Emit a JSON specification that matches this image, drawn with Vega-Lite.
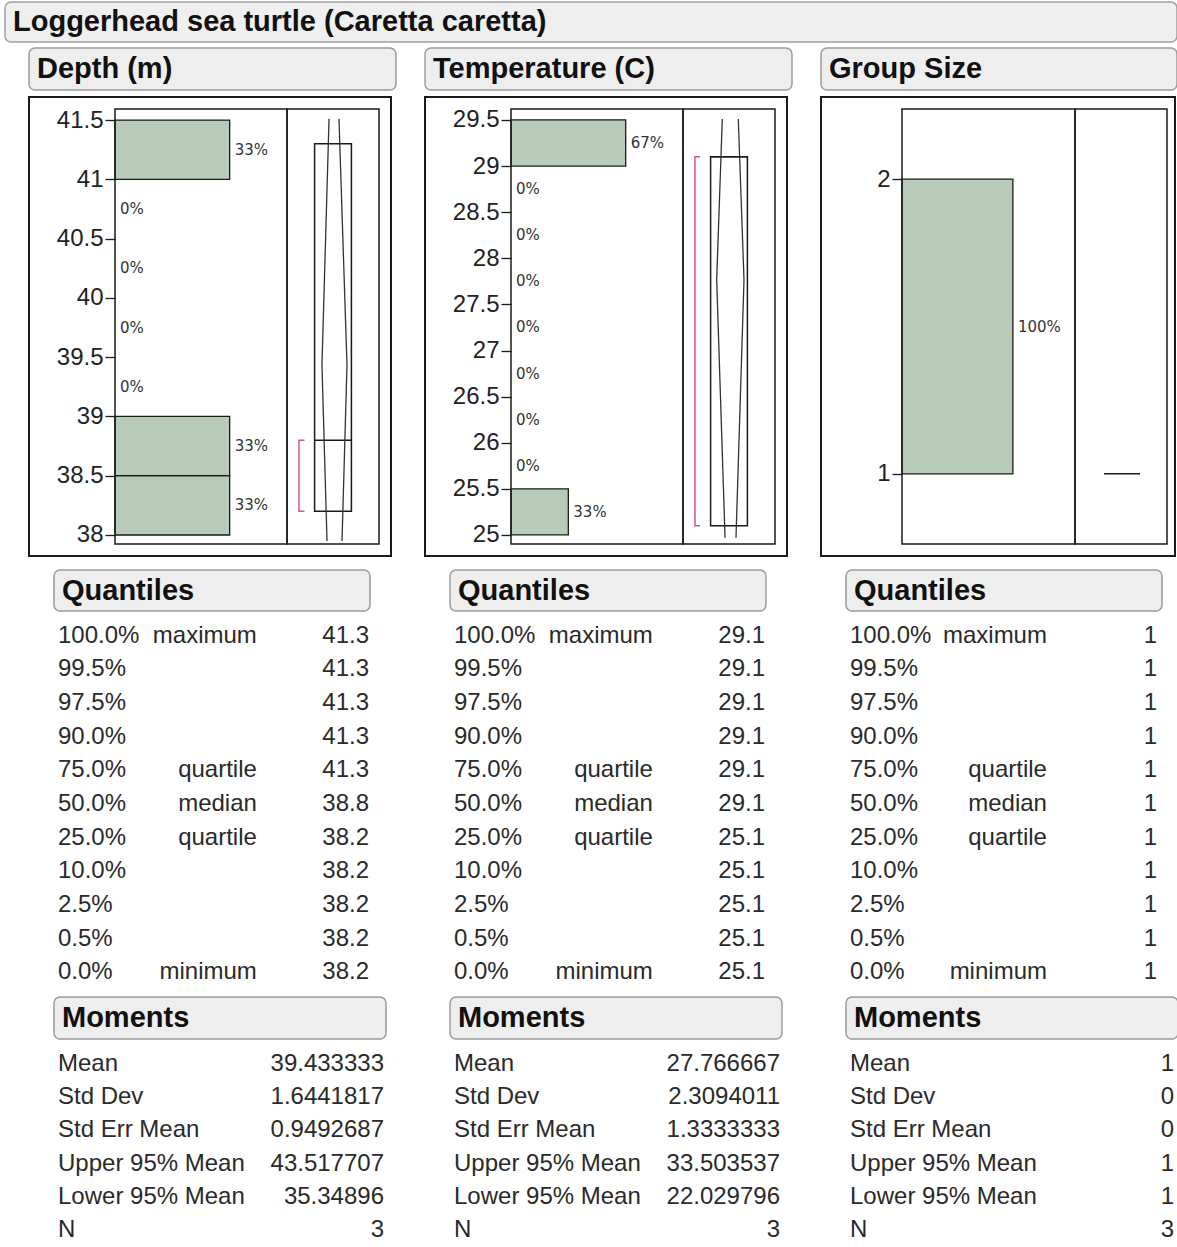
{
  "$schema": "https://vega.github.io/schema/vega-lite/v6.json",
  "padding": {"left": 4, "top": 1, "right": 0, "bottom": 0},
  "background": "white",
  "config": {"view": {"stroke": null}},
  "datasets": {
    "depthBins": [
      {"lo": 38, "hi": 38.5, "mid": 38.25, "pct": 33.33, "lab": "33%"},
      {"lo": 38.5, "hi": 39, "mid": 38.75, "pct": 33.33, "lab": "33%"},
      {"lo": 39, "hi": 39.5, "mid": 39.25, "pct": 0, "lab": "0%"},
      {"lo": 39.5, "hi": 40, "mid": 39.75, "pct": 0, "lab": "0%"},
      {"lo": 40, "hi": 40.5, "mid": 40.25, "pct": 0, "lab": "0%"},
      {"lo": 40.5, "hi": 41, "mid": 40.75, "pct": 0, "lab": "0%"},
      {"lo": 41, "hi": 41.5, "mid": 41.25, "pct": 33.33, "lab": "33%"}
    ],
    "tempBins": [
      {"lo": 25, "hi": 25.5, "mid": 25.25, "pct": 33.33, "lab": "33%"},
      {"lo": 25.5, "hi": 26, "mid": 25.75, "pct": 0, "lab": "0%"},
      {"lo": 26, "hi": 26.5, "mid": 26.25, "pct": 0, "lab": "0%"},
      {"lo": 26.5, "hi": 27, "mid": 26.75, "pct": 0, "lab": "0%"},
      {"lo": 27, "hi": 27.5, "mid": 27.25, "pct": 0, "lab": "0%"},
      {"lo": 27.5, "hi": 28, "mid": 27.75, "pct": 0, "lab": "0%"},
      {"lo": 28, "hi": 28.5, "mid": 28.25, "pct": 0, "lab": "0%"},
      {"lo": 28.5, "hi": 29, "mid": 28.75, "pct": 0, "lab": "0%"},
      {"lo": 29, "hi": 29.5, "mid": 29.25, "pct": 66.67, "lab": "67%"}
    ],
    "groupBins": [
      {"lo": 1, "hi": 2, "mid": 1.5, "pct": 100, "lab": "100%"}
    ],
    "depthBox": [{"q1": 38.2, "q3": 41.3, "med": 38.8}],
    "tempBox": [{"q1": 25.1, "q3": 29.1, "med": 29.1}],
    "groupBox": [{"q1": 1, "q3": 1, "med": 1}],
    "depthDiamond": [
      {"side": "L", "ord": 1, "bx": 0.457, "val": 41.51},
      {"side": "L", "ord": 2, "bx": 0.38, "val": 39.433},
      {"side": "L", "ord": 3, "bx": 0.435, "val": 37.95},
      {"side": "R", "ord": 1, "bx": 0.565, "val": 41.51},
      {"side": "R", "ord": 2, "bx": 0.652, "val": 39.433},
      {"side": "R", "ord": 3, "bx": 0.598, "val": 37.95}
    ],
    "tempDiamond": [
      {"side": "L", "ord": 1, "bx": 0.427, "val": 29.51},
      {"side": "L", "ord": 2, "bx": 0.366, "val": 27.767},
      {"side": "L", "ord": 3, "bx": 0.457, "val": 24.97},
      {"side": "R", "ord": 1, "bx": 0.601, "val": 29.51},
      {"side": "R", "ord": 2, "bx": 0.663, "val": 27.767},
      {"side": "R", "ord": 3, "bx": 0.576, "val": 24.97}
    ],
    "depthBracket": [
      {"ord": 1, "bx": 0.19, "val": 38.2},
      {"ord": 2, "bx": 0.13, "val": 38.2},
      {"ord": 3, "bx": 0.13, "val": 38.8},
      {"ord": 4, "bx": 0.19, "val": 38.8}
    ],
    "tempBracket": [
      {"ord": 1, "bx": 0.185, "val": 25.1},
      {"ord": 2, "bx": 0.13, "val": 25.1},
      {"ord": 3, "bx": 0.13, "val": 29.1},
      {"ord": 4, "bx": 0.185, "val": 29.1}
    ],
    "depthQ": [
      {"q": "100.0%", "name": "maximum", "v": 41.3},
      {"q": "99.5%", "name": "", "v": 41.3},
      {"q": "97.5%", "name": "", "v": 41.3},
      {"q": "90.0%", "name": "", "v": 41.3},
      {"q": "75.0%", "name": "quartile", "v": 41.3},
      {"q": "50.0%", "name": "median", "v": 38.8},
      {"q": "25.0%", "name": "quartile", "v": 38.2},
      {"q": "10.0%", "name": "", "v": 38.2},
      {"q": "2.5%", "name": "", "v": 38.2},
      {"q": "0.5%", "name": "", "v": 38.2},
      {"q": "0.0%", "name": "minimum", "v": 38.2}
    ],
    "tempQ": [
      {"q": "100.0%", "name": "maximum", "v": 29.1},
      {"q": "99.5%", "name": "", "v": 29.1},
      {"q": "97.5%", "name": "", "v": 29.1},
      {"q": "90.0%", "name": "", "v": 29.1},
      {"q": "75.0%", "name": "quartile", "v": 29.1},
      {"q": "50.0%", "name": "median", "v": 29.1},
      {"q": "25.0%", "name": "quartile", "v": 25.1},
      {"q": "10.0%", "name": "", "v": 25.1},
      {"q": "2.5%", "name": "", "v": 25.1},
      {"q": "0.5%", "name": "", "v": 25.1},
      {"q": "0.0%", "name": "minimum", "v": 25.1}
    ],
    "groupQ": [
      {"q": "100.0%", "name": "maximum", "v": 1},
      {"q": "99.5%", "name": "", "v": 1},
      {"q": "97.5%", "name": "", "v": 1},
      {"q": "90.0%", "name": "", "v": 1},
      {"q": "75.0%", "name": "quartile", "v": 1},
      {"q": "50.0%", "name": "median", "v": 1},
      {"q": "25.0%", "name": "quartile", "v": 1},
      {"q": "10.0%", "name": "", "v": 1},
      {"q": "2.5%", "name": "", "v": 1},
      {"q": "0.5%", "name": "", "v": 1},
      {"q": "0.0%", "name": "minimum", "v": 1}
    ],
    "depthM": [
      {"name": "Mean", "v": 39.433333},
      {"name": "Std Dev", "v": 1.6441817},
      {"name": "Std Err Mean", "v": 0.9492687},
      {"name": "Upper 95% Mean", "v": 43.517707},
      {"name": "Lower 95% Mean", "v": 35.34896},
      {"name": "N", "v": 3}
    ],
    "tempM": [
      {"name": "Mean", "v": 27.766667},
      {"name": "Std Dev", "v": 2.3094011},
      {"name": "Std Err Mean", "v": 1.3333333},
      {"name": "Upper 95% Mean", "v": 33.503537},
      {"name": "Lower 95% Mean", "v": 22.029796},
      {"name": "N", "v": 3}
    ],
    "groupM": [
      {"name": "Mean", "v": 1},
      {"name": "Std Dev", "v": 0},
      {"name": "Std Err Mean", "v": 0},
      {"name": "Upper 95% Mean", "v": 1},
      {"name": "Lower 95% Mean", "v": 1},
      {"name": "N", "v": 3}
    ]
  },
  "spacing": 4,
  "vconcat": [
    {
      "width": 1172, "height": 40,
      "view": {"fill": "#efefef", "stroke": "#a0a0a0", "strokeWidth": 1.5, "cornerRadius": 6},
      "data": {"values": [{"t": "Loggerhead sea turtle (Caretta caretta)"}]},
      "mark": {"type": "text", "align": "left", "baseline": "middle", "dx": 8, "font": "Liberation Sans", "fontSize": 29, "fontWeight": "bold", "color": "#111111"},
      "encoding": {"x": {"datum": 0, "type": "quantitative", "scale": {"domain": [0, 1]}, "axis": null}, "text": {"field": "t"}}
    },
    {
      "spacing": 0,
      "hconcat": [
        {"width": 23, "height": 1, "data": {"values": []}, "mark": "point"},
        {
          "spacing": 27,
          "hconcat": [
            {
              "spacing": 5,
              "vconcat": [
                {
                  "width": 367, "height": 42,
                  "view": {"fill": "#eeeeee", "stroke": "#9c9c9c", "strokeWidth": 1.5, "cornerRadius": 6},
                  "data": {"values": [{"t": "Depth (m)"}]},
                  "mark": {"type": "text", "align": "left", "baseline": "middle", "dx": 8, "font": "Liberation Sans", "fontSize": 29, "fontWeight": "bold", "color": "#111111"},
                  "encoding": {"x": {"datum": 0, "type": "quantitative", "scale": {"domain": [0, 1]}, "axis": null}, "text": {"field": "t"}}
                },
                {
                  "spacing": 12,
                  "vconcat": [
                    {
                      "width": 362, "height": 459,
                      "view": {"stroke": "#1a1a1a", "strokeWidth": 2},
                      "resolve": {"scale": {"x": "independent"}},
                      "layer": [
                        {
                          "data": {"name": "depthBins"},
                          "transform": [{"filter": "datum.pct > 0"}],
                          "mark": {"type": "rect", "fill": "#b8cab8", "stroke": "#1a1a1a", "strokeWidth": 1.3},
                          "encoding": {
                            "x": {"field": "pct", "type": "quantitative", "scale": {"domain": [0, 50], "range": [86, 258]}, "axis": null},
                            "x2": {"datum": 0},
                            "y": {"field": "lo", "type": "quantitative", "scale": {"domain": [37.924, 41.593], "range": [447, 12], "nice": false, "zero": false},
                                  "axis": {"orient": "left", "offset": -86, "values": [38, 38.5, 39, 39.5, 40, 40.5, 41, 41.5], "format": "~g", "domain": false, "grid": false, "tickSize": 10, "tickWidth": 1.3, "tickColor": "#1a1a1a", "labelFontSize": 24, "labelFont": "Liberation Sans", "labelColor": "#222222", "labelPadding": 2, "labelFlush": false, "labelOverlap": false, "title": null}},
                            "y2": {"field": "hi"}
                          }
                        },
                        {
                          "data": {"name": "depthBins"},
                          "mark": {"type": "text", "align": "left", "baseline": "middle", "dx": 5, "font": "DejaVu Sans", "fontSize": 15, "color": "#333333"},
                          "encoding": {
                            "x": {"field": "pct", "type": "quantitative", "scale": {"domain": [0, 50], "range": [86, 258]}, "axis": null},
                            "y": {"field": "mid", "type": "quantitative"},
                            "text": {"field": "lab"}
                          }
                        },
                        {
                          "data": {"values": [{}]},
                          "mark": {"type": "rect", "fill": "transparent", "stroke": "#1a1a1a", "strokeWidth": 1.5},
                          "encoding": {
                            "x": {"datum": 0, "type": "quantitative", "scale": {"domain": [0, 50], "range": [86, 258]}, "axis": null},
                            "x2": {"datum": 50},
                            "y": {"datum": 37.924, "type": "quantitative"},
                            "y2": {"datum": 41.593}
                          }
                        },
                        {
                          "data": {"values": [{}]},
                          "mark": {"type": "rect", "fill": "transparent", "stroke": "#1a1a1a", "strokeWidth": 1.5},
                          "encoding": {
                            "x": {"datum": 0, "type": "quantitative", "scale": {"domain": [0, 1], "range": [258, 350]}, "axis": null},
                            "x2": {"datum": 1},
                            "y": {"datum": 37.924, "type": "quantitative"},
                            "y2": {"datum": 41.593}
                          }
                        },
                        {
                          "data": {"name": "depthBox"},
                          "mark": {"type": "rect", "fill": "transparent", "stroke": "#1a1a1a", "strokeWidth": 1.5},
                          "encoding": {
                            "x": {"datum": 0.3, "type": "quantitative", "scale": {"domain": [0, 1], "range": [258, 350]}, "axis": null},
                            "x2": {"datum": 0.7},
                            "y": {"field": "q1", "type": "quantitative"},
                            "y2": {"field": "q3"}
                          }
                        },
                        {
                          "data": {"name": "depthBox"},
                          "mark": {"type": "rule", "color": "#1a1a1a", "strokeWidth": 1.5},
                          "encoding": {
                            "x": {"datum": 0.3, "type": "quantitative", "scale": {"domain": [0, 1], "range": [258, 350]}, "axis": null},
                            "x2": {"datum": 0.7},
                            "y": {"field": "med", "type": "quantitative"}
                          }
                        },
                        {
                          "data": {"name": "depthDiamond"},
                          "mark": {"type": "line", "color": "#333333", "strokeWidth": 1.3},
                          "encoding": {
                            "x": {"field": "bx", "type": "quantitative", "scale": {"domain": [0, 1], "range": [258, 350]}, "axis": null},
                            "y": {"field": "val", "type": "quantitative"},
                            "detail": {"field": "side"},
                            "order": {"field": "ord", "type": "quantitative"}
                          }
                        },
                        {
                          "data": {"name": "depthBracket"},
                          "mark": {"type": "line", "color": "#d6587a", "strokeWidth": 1.5},
                          "encoding": {
                            "x": {"field": "bx", "type": "quantitative", "scale": {"domain": [0, 1], "range": [258, 350]}, "axis": null},
                            "y": {"field": "val", "type": "quantitative"},
                            "order": {"field": "ord", "type": "quantitative"}
                          }
                        }
                      ]
                    },
                    {
                      "spacing": 0,
                      "hconcat": [
                        {"width": 24, "height": 1, "data": {"values": []}, "mark": "point"},
                        {
                          "spacing": 7,
                          "vconcat": [
                            {
                              "width": 316, "height": 41,
                              "view": {"fill": "#eeeeee", "stroke": "#9c9c9c", "strokeWidth": 1.5, "cornerRadius": 6},
                              "data": {"values": [{"t": "Quantiles"}]},
                              "mark": {"type": "text", "align": "left", "baseline": "middle", "dx": 8, "font": "Liberation Sans", "fontSize": 29, "fontWeight": "bold", "color": "#111111"},
                              "encoding": {"x": {"datum": 0, "type": "quantitative", "scale": {"domain": [0, 1]}, "axis": null}, "text": {"field": "t"}}
                            },
                            {
                              "width": 316, "height": 370,
                              "data": {"name": "depthQ"},
                              "encoding": {"y": {"field": "q", "type": "nominal", "sort": null, "scale": {"type": "point", "padding": 0.5}, "axis": null}},
                              "layer": [
                                {"mark": {"type": "text", "align": "left", "baseline": "middle", "dx": 4, "font": "Liberation Sans", "fontSize": 24, "color": "#2a2a2a"},
                                 "encoding": {"x": {"datum": 0, "type": "quantitative", "scale": {"domain": [0, 1]}, "axis": null}, "text": {"field": "q"}}},
                                {"mark": {"type": "text", "align": "right", "baseline": "middle", "font": "Liberation Sans", "fontSize": 24, "color": "#2a2a2a"},
                                 "encoding": {"x": {"datum": 0.642, "type": "quantitative"}, "text": {"field": "name"}}},
                                {"mark": {"type": "text", "align": "right", "baseline": "middle", "dx": -1, "font": "Liberation Sans", "fontSize": 24, "color": "#2a2a2a"},
                                 "encoding": {"x": {"datum": 1, "type": "quantitative"}, "text": {"field": "v", "type": "nominal"}}}
                              ]
                            },
                            {
                              "width": 332, "height": 42,
                              "view": {"fill": "#eeeeee", "stroke": "#9c9c9c", "strokeWidth": 1.5, "cornerRadius": 6},
                              "data": {"values": [{"t": "Moments"}]},
                              "mark": {"type": "text", "align": "left", "baseline": "middle", "dx": 8, "font": "Liberation Sans", "fontSize": 29, "fontWeight": "bold", "color": "#111111"},
                              "encoding": {"x": {"datum": 0, "type": "quantitative", "scale": {"domain": [0, 1]}, "axis": null}, "text": {"field": "t"}}
                            },
                            {
                              "width": 332, "height": 200,
                              "data": {"name": "depthM"},
                              "encoding": {"y": {"field": "name", "type": "nominal", "sort": null, "scale": {"type": "point", "padding": 0.5}, "axis": null}},
                              "layer": [
                                {"mark": {"type": "text", "align": "left", "baseline": "middle", "dx": 4, "font": "Liberation Sans", "fontSize": 24, "color": "#2a2a2a"},
                                 "encoding": {"x": {"datum": 0, "type": "quantitative", "scale": {"domain": [0, 1]}, "axis": null}, "text": {"field": "name"}}},
                                {"mark": {"type": "text", "align": "right", "baseline": "middle", "dx": -2, "font": "Liberation Sans", "fontSize": 24, "color": "#2a2a2a"},
                                 "encoding": {"x": {"datum": 1, "type": "quantitative"}, "text": {"field": "v", "type": "nominal"}}}
                              ]
                            }
                          ]
                        }
                      ]
                    }
                  ]
                }
              ]
            },
            {
              "spacing": 5,
              "vconcat": [
                {
                  "width": 367, "height": 42,
                  "view": {"fill": "#eeeeee", "stroke": "#9c9c9c", "strokeWidth": 1.5, "cornerRadius": 6},
                  "data": {"values": [{"t": "Temperature (C)"}]},
                  "mark": {"type": "text", "align": "left", "baseline": "middle", "dx": 8, "font": "Liberation Sans", "fontSize": 29, "fontWeight": "bold", "color": "#111111"},
                  "encoding": {"x": {"datum": 0, "type": "quantitative", "scale": {"domain": [0, 1]}, "axis": null}, "text": {"field": "t"}}
                },
                {
                  "spacing": 12,
                  "vconcat": [
                    {
                      "width": 362, "height": 459,
                      "view": {"stroke": "#1a1a1a", "strokeWidth": 2},
                      "resolve": {"scale": {"x": "independent"}},
                      "layer": [
                        {
                          "data": {"name": "tempBins"},
                          "transform": [{"filter": "datum.pct > 0"}],
                          "mark": {"type": "rect", "fill": "#b8cab8", "stroke": "#1a1a1a", "strokeWidth": 1.3},
                          "encoding": {
                            "x": {"field": "pct", "type": "quantitative", "scale": {"domain": [0, 100], "range": [86, 258]}, "axis": null},
                            "x2": {"datum": 0},
                            "y": {"field": "lo", "type": "quantitative", "scale": {"domain": [24.902, 29.619], "range": [447, 12], "nice": false, "zero": false},
                                  "axis": {"orient": "left", "offset": -86, "values": [25, 25.5, 26, 26.5, 27, 27.5, 28, 28.5, 29, 29.5], "format": "~g", "domain": false, "grid": false, "tickSize": 10, "tickWidth": 1.3, "tickColor": "#1a1a1a", "labelFontSize": 24, "labelFont": "Liberation Sans", "labelColor": "#222222", "labelPadding": 2, "labelFlush": false, "labelOverlap": false, "title": null}},
                            "y2": {"field": "hi"}
                          }
                        },
                        {
                          "data": {"name": "tempBins"},
                          "mark": {"type": "text", "align": "left", "baseline": "middle", "dx": 5, "font": "DejaVu Sans", "fontSize": 15, "color": "#333333"},
                          "encoding": {
                            "x": {"field": "pct", "type": "quantitative", "scale": {"domain": [0, 100], "range": [86, 258]}, "axis": null},
                            "y": {"field": "mid", "type": "quantitative"},
                            "text": {"field": "lab"}
                          }
                        },
                        {
                          "data": {"values": [{}]},
                          "mark": {"type": "rect", "fill": "transparent", "stroke": "#1a1a1a", "strokeWidth": 1.5},
                          "encoding": {
                            "x": {"datum": 0, "type": "quantitative", "scale": {"domain": [0, 100], "range": [86, 258]}, "axis": null},
                            "x2": {"datum": 100},
                            "y": {"datum": 24.902, "type": "quantitative"},
                            "y2": {"datum": 29.619}
                          }
                        },
                        {
                          "data": {"values": [{}]},
                          "mark": {"type": "rect", "fill": "transparent", "stroke": "#1a1a1a", "strokeWidth": 1.5},
                          "encoding": {
                            "x": {"datum": 0, "type": "quantitative", "scale": {"domain": [0, 1], "range": [258, 350]}, "axis": null},
                            "x2": {"datum": 1},
                            "y": {"datum": 24.902, "type": "quantitative"},
                            "y2": {"datum": 29.619}
                          }
                        },
                        {
                          "data": {"name": "tempBox"},
                          "mark": {"type": "rect", "fill": "transparent", "stroke": "#1a1a1a", "strokeWidth": 1.5},
                          "encoding": {
                            "x": {"datum": 0.3, "type": "quantitative", "scale": {"domain": [0, 1], "range": [258, 350]}, "axis": null},
                            "x2": {"datum": 0.7},
                            "y": {"field": "q1", "type": "quantitative"},
                            "y2": {"field": "q3"}
                          }
                        },
                        {
                          "data": {"name": "tempBox"},
                          "mark": {"type": "rule", "color": "#1a1a1a", "strokeWidth": 1.5},
                          "encoding": {
                            "x": {"datum": 0.3, "type": "quantitative", "scale": {"domain": [0, 1], "range": [258, 350]}, "axis": null},
                            "x2": {"datum": 0.7},
                            "y": {"field": "med", "type": "quantitative"}
                          }
                        },
                        {
                          "data": {"name": "tempDiamond"},
                          "mark": {"type": "line", "color": "#333333", "strokeWidth": 1.3},
                          "encoding": {
                            "x": {"field": "bx", "type": "quantitative", "scale": {"domain": [0, 1], "range": [258, 350]}, "axis": null},
                            "y": {"field": "val", "type": "quantitative"},
                            "detail": {"field": "side"},
                            "order": {"field": "ord", "type": "quantitative"}
                          }
                        },
                        {
                          "data": {"name": "tempBracket"},
                          "mark": {"type": "line", "color": "#d6587a", "strokeWidth": 1.5},
                          "encoding": {
                            "x": {"field": "bx", "type": "quantitative", "scale": {"domain": [0, 1], "range": [258, 350]}, "axis": null},
                            "y": {"field": "val", "type": "quantitative"},
                            "order": {"field": "ord", "type": "quantitative"}
                          }
                        }
                      ]
                    },
                    {
                      "spacing": 0,
                      "hconcat": [
                        {"width": 24, "height": 1, "data": {"values": []}, "mark": "point"},
                        {
                          "spacing": 7,
                          "vconcat": [
                            {
                              "width": 316, "height": 41,
                              "view": {"fill": "#eeeeee", "stroke": "#9c9c9c", "strokeWidth": 1.5, "cornerRadius": 6},
                              "data": {"values": [{"t": "Quantiles"}]},
                              "mark": {"type": "text", "align": "left", "baseline": "middle", "dx": 8, "font": "Liberation Sans", "fontSize": 29, "fontWeight": "bold", "color": "#111111"},
                              "encoding": {"x": {"datum": 0, "type": "quantitative", "scale": {"domain": [0, 1]}, "axis": null}, "text": {"field": "t"}}
                            },
                            {
                              "width": 316, "height": 370,
                              "data": {"name": "tempQ"},
                              "encoding": {"y": {"field": "q", "type": "nominal", "sort": null, "scale": {"type": "point", "padding": 0.5}, "axis": null}},
                              "layer": [
                                {"mark": {"type": "text", "align": "left", "baseline": "middle", "dx": 4, "font": "Liberation Sans", "fontSize": 24, "color": "#2a2a2a"},
                                 "encoding": {"x": {"datum": 0, "type": "quantitative", "scale": {"domain": [0, 1]}, "axis": null}, "text": {"field": "q"}}},
                                {"mark": {"type": "text", "align": "right", "baseline": "middle", "font": "Liberation Sans", "fontSize": 24, "color": "#2a2a2a"},
                                 "encoding": {"x": {"datum": 0.642, "type": "quantitative"}, "text": {"field": "name"}}},
                                {"mark": {"type": "text", "align": "right", "baseline": "middle", "dx": -1, "font": "Liberation Sans", "fontSize": 24, "color": "#2a2a2a"},
                                 "encoding": {"x": {"datum": 1, "type": "quantitative"}, "text": {"field": "v", "type": "nominal"}}}
                              ]
                            },
                            {
                              "width": 332, "height": 42,
                              "view": {"fill": "#eeeeee", "stroke": "#9c9c9c", "strokeWidth": 1.5, "cornerRadius": 6},
                              "data": {"values": [{"t": "Moments"}]},
                              "mark": {"type": "text", "align": "left", "baseline": "middle", "dx": 8, "font": "Liberation Sans", "fontSize": 29, "fontWeight": "bold", "color": "#111111"},
                              "encoding": {"x": {"datum": 0, "type": "quantitative", "scale": {"domain": [0, 1]}, "axis": null}, "text": {"field": "t"}}
                            },
                            {
                              "width": 332, "height": 200,
                              "data": {"name": "tempM"},
                              "encoding": {"y": {"field": "name", "type": "nominal", "sort": null, "scale": {"type": "point", "padding": 0.5}, "axis": null}},
                              "layer": [
                                {"mark": {"type": "text", "align": "left", "baseline": "middle", "dx": 4, "font": "Liberation Sans", "fontSize": 24, "color": "#2a2a2a"},
                                 "encoding": {"x": {"datum": 0, "type": "quantitative", "scale": {"domain": [0, 1]}, "axis": null}, "text": {"field": "name"}}},
                                {"mark": {"type": "text", "align": "right", "baseline": "middle", "dx": -2, "font": "Liberation Sans", "fontSize": 24, "color": "#2a2a2a"},
                                 "encoding": {"x": {"datum": 1, "type": "quantitative"}, "text": {"field": "v", "type": "nominal"}}}
                              ]
                            }
                          ]
                        }
                      ]
                    }
                  ]
                }
              ]
            },
            {
              "spacing": 5,
              "vconcat": [
                {
                  "width": 356, "height": 42,
                  "view": {"fill": "#eeeeee", "stroke": "#9c9c9c", "strokeWidth": 1.5, "cornerRadius": 6},
                  "data": {"values": [{"t": "Group Size"}]},
                  "mark": {"type": "text", "align": "left", "baseline": "middle", "dx": 8, "font": "Liberation Sans", "fontSize": 29, "fontWeight": "bold", "color": "#111111"},
                  "encoding": {"x": {"datum": 0, "type": "quantitative", "scale": {"domain": [0, 1]}, "axis": null}, "text": {"field": "t"}}
                },
                {
                  "spacing": 12,
                  "vconcat": [
                    {
                      "width": 354, "height": 459,
                      "view": {"stroke": "#1a1a1a", "strokeWidth": 2},
                      "resolve": {"scale": {"x": "independent"}},
                      "layer": [
                        {
                          "data": {"name": "groupBins"},
                          "transform": [{"filter": "datum.pct > 0"}],
                          "mark": {"type": "rect", "fill": "#b8cab8", "stroke": "#1a1a1a", "strokeWidth": 1.3},
                          "encoding": {
                            "x": {"field": "pct", "type": "quantitative", "scale": {"domain": [0, 156], "range": [81, 254]}, "axis": null},
                            "x2": {"datum": 0},
                            "y": {"field": "lo", "type": "quantitative", "scale": {"domain": [0.762, 2.238], "range": [447, 12], "nice": false, "zero": false},
                                  "axis": {"orient": "left", "offset": -81, "values": [1, 2], "format": "~g", "domain": false, "grid": false, "tickSize": 10, "tickWidth": 1.3, "tickColor": "#1a1a1a", "labelFontSize": 24, "labelFont": "Liberation Sans", "labelColor": "#222222", "labelPadding": 2, "labelFlush": false, "labelOverlap": false, "title": null}},
                            "y2": {"field": "hi"}
                          }
                        },
                        {
                          "data": {"name": "groupBins"},
                          "mark": {"type": "text", "align": "left", "baseline": "middle", "dx": 5, "font": "DejaVu Sans", "fontSize": 15, "color": "#333333"},
                          "encoding": {
                            "x": {"field": "pct", "type": "quantitative", "scale": {"domain": [0, 156], "range": [81, 254]}, "axis": null},
                            "y": {"field": "mid", "type": "quantitative"},
                            "text": {"field": "lab"}
                          }
                        },
                        {
                          "data": {"values": [{}]},
                          "mark": {"type": "rect", "fill": "transparent", "stroke": "#1a1a1a", "strokeWidth": 1.5},
                          "encoding": {
                            "x": {"datum": 0, "type": "quantitative", "scale": {"domain": [0, 156], "range": [81, 254]}, "axis": null},
                            "x2": {"datum": 156},
                            "y": {"datum": 0.762, "type": "quantitative"},
                            "y2": {"datum": 2.238}
                          }
                        },
                        {
                          "data": {"values": [{}]},
                          "mark": {"type": "rect", "fill": "transparent", "stroke": "#1a1a1a", "strokeWidth": 1.5},
                          "encoding": {
                            "x": {"datum": 0, "type": "quantitative", "scale": {"domain": [0, 1], "range": [254, 346]}, "axis": null},
                            "x2": {"datum": 1},
                            "y": {"datum": 0.762, "type": "quantitative"},
                            "y2": {"datum": 2.238}
                          }
                        },
                        {
                          "data": {"name": "groupBox"},
                          "mark": {"type": "rule", "color": "#1a1a1a", "strokeWidth": 1.5},
                          "encoding": {
                            "x": {"datum": 0.315, "type": "quantitative", "scale": {"domain": [0, 1], "range": [254, 346]}, "axis": null},
                            "x2": {"datum": 0.707},
                            "y": {"field": "med", "type": "quantitative"}
                          }
                        }
                      ]
                    },
                    {
                      "spacing": 0,
                      "hconcat": [
                        {"width": 24, "height": 1, "data": {"values": []}, "mark": "point"},
                        {
                          "spacing": 7,
                          "vconcat": [
                            {
                              "width": 316, "height": 41,
                              "view": {"fill": "#eeeeee", "stroke": "#9c9c9c", "strokeWidth": 1.5, "cornerRadius": 6},
                              "data": {"values": [{"t": "Quantiles"}]},
                              "mark": {"type": "text", "align": "left", "baseline": "middle", "dx": 8, "font": "Liberation Sans", "fontSize": 29, "fontWeight": "bold", "color": "#111111"},
                              "encoding": {"x": {"datum": 0, "type": "quantitative", "scale": {"domain": [0, 1]}, "axis": null}, "text": {"field": "t"}}
                            },
                            {
                              "width": 316, "height": 370,
                              "data": {"name": "groupQ"},
                              "encoding": {"y": {"field": "q", "type": "nominal", "sort": null, "scale": {"type": "point", "padding": 0.5}, "axis": null}},
                              "layer": [
                                {"mark": {"type": "text", "align": "left", "baseline": "middle", "dx": 4, "font": "Liberation Sans", "fontSize": 24, "color": "#2a2a2a"},
                                 "encoding": {"x": {"datum": 0, "type": "quantitative", "scale": {"domain": [0, 1]}, "axis": null}, "text": {"field": "q"}}},
                                {"mark": {"type": "text", "align": "right", "baseline": "middle", "font": "Liberation Sans", "fontSize": 24, "color": "#2a2a2a"},
                                 "encoding": {"x": {"datum": 0.636, "type": "quantitative"}, "text": {"field": "name"}}},
                                {"mark": {"type": "text", "align": "right", "baseline": "middle", "dx": -5, "font": "Liberation Sans", "fontSize": 24, "color": "#2a2a2a"},
                                 "encoding": {"x": {"datum": 1, "type": "quantitative"}, "text": {"field": "v", "type": "nominal"}}}
                              ]
                            },
                            {
                              "width": 332, "height": 42,
                              "view": {"fill": "#eeeeee", "stroke": "#9c9c9c", "strokeWidth": 1.5, "cornerRadius": 6},
                              "data": {"values": [{"t": "Moments"}]},
                              "mark": {"type": "text", "align": "left", "baseline": "middle", "dx": 8, "font": "Liberation Sans", "fontSize": 29, "fontWeight": "bold", "color": "#111111"},
                              "encoding": {"x": {"datum": 0, "type": "quantitative", "scale": {"domain": [0, 1]}, "axis": null}, "text": {"field": "t"}}
                            },
                            {
                              "width": 332, "height": 200,
                              "data": {"name": "groupM"},
                              "encoding": {"y": {"field": "name", "type": "nominal", "sort": null, "scale": {"type": "point", "padding": 0.5}, "axis": null}},
                              "layer": [
                                {"mark": {"type": "text", "align": "left", "baseline": "middle", "dx": 4, "font": "Liberation Sans", "fontSize": 24, "color": "#2a2a2a"},
                                 "encoding": {"x": {"datum": 0, "type": "quantitative", "scale": {"domain": [0, 1]}, "axis": null}, "text": {"field": "name"}}},
                                {"mark": {"type": "text", "align": "right", "baseline": "middle", "dx": -4, "font": "Liberation Sans", "fontSize": 24, "color": "#2a2a2a"},
                                 "encoding": {"x": {"datum": 1, "type": "quantitative"}, "text": {"field": "v", "type": "nominal"}}}
                              ]
                            }
                          ]
                        }
                      ]
                    }
                  ]
                }
              ]
            }
          ]
        }
      ]
    }
  ]
}
